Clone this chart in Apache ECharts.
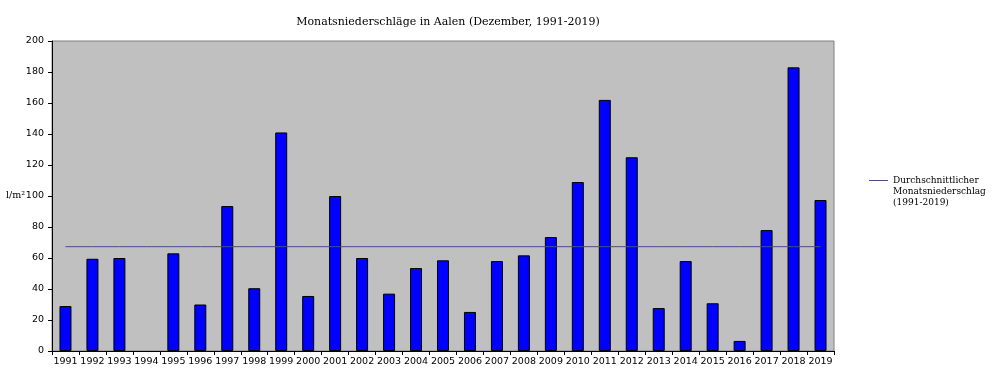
<!DOCTYPE html>
<html>
<head>
<meta charset="utf-8">
<script src="https://cdn.jsdelivr.net/npm/echarts@6/dist/echarts.min.js"></script>
<style>html,body{margin:0;padding:0;background:#fff}#c{width:1000px;height:383px}</style>
</head>
<body>
<div id="c"></div>
<script>
const years = ['1991','1992','1993','1994','1995','1996','1997','1998','1999','2000','2001','2002','2003','2004','2005','2006','2007','2008','2009','2010','2011','2012','2013','2014','2015','2016','2017','2018','2019'];
const precipitation = [29, 59.5, 60, null, 63, 30, 93.5, 40.5, 141, 35.5, 100, 60, 37, 53.5, 58.5, 25.2, 58, 61.7, 73.5, 109, 162, 125, 27.7, 58, 30.8, 6.5, 78, 183, 97.4];
const averageValue = 67.3;
const average = years.map(() => averageValue);
const yTicks = [0, 20, 40, 60, 80, 100, 120, 140, 160, 180, 200];
const avgName = 'Durchschnittlicher\nMonatsniederschlag\n(1991-2019)';

const chart = echarts.init(document.getElementById('c'), null, {renderer: 'canvas'});
chart.setOption({
  animation: false,
  backgroundColor: '#ffffff',
  title: {
    text: 'Monatsniederschläge in Aalen (Dezember, 1991-2019)',
    left: 443, top: 12, textAlign: 'center',
    textStyle: {fontFamily: 'DejaVu Serif', fontSize: 11, fontWeight: 'normal', color: '#000'}
  },
  legend: {
    data: [avgName],
    left: 869, top: 175, padding: 0,
    orient: 'vertical',
    itemWidth: 19, itemHeight: 23, itemGap: 4,
    icon: 'path://M0,0L19,0L19,1L0,1Z M0,23L0,23L0,23Z',
    textStyle: {fontFamily: 'DejaVu Serif', fontSize: 9, color: '#000', lineHeight: 11}
  },
  grid: {
    left: 52, right: 166, top: 41, bottom: 32,
    outerBoundsMode: 'none',
    show: true, backgroundColor: '#c0c0c0', borderColor: '#808080', borderWidth: 1
  },
  xAxis: {
    type: 'category', data: years, boundaryGap: true,
    axisLine: {lineStyle: {color: '#000', width: 1}},
    axisTick: {show: true, interval: 0, length: 4, lineStyle: {color: '#000'}},
    axisLabel: {interval: 0, fontFamily: 'DejaVu Sans', fontSize: 9.5, color: '#000', margin: 6},
    splitLine: {show: false}
  },
  yAxis: {
    type: 'value', min: 0, max: 200, interval: 20,
    name: 'l/m²', nameLocation: 'middle', nameRotate: 0, nameGap: 27,
    nameMoveOverlap: false,
    nameTextStyle: {fontFamily: 'DejaVu Serif', fontSize: 9.5, color: '#000'},
    axisLine: {show: true, lineStyle: {color: '#000', width: 1}},
    axisTick: {show: true, length: 4, inside: false, lineStyle: {color: '#000'}},
    axisLabel: {fontFamily: 'DejaVu Sans', fontSize: 9.5, color: '#000', margin: 8,
      formatter: v => yTicks.includes(v) ? String(v) : ''},
    splitLine: {show: false}
  },
  series: [
    {
      name: 'Niederschlag', type: 'bar', data: precipitation,
      barWidth: 12,
      itemStyle: {color: '#0000ff', borderColor: '#000', borderWidth: 1}
    },
    {
      name: avgName, type: 'line', data: average,
      symbol: 'none', showSymbol: false,
      lineStyle: {color: '#4b4b8c', width: 1},
      itemStyle: {color: '#4b4b8c'}
    }
  ]
});
</script>
</body>
</html>
